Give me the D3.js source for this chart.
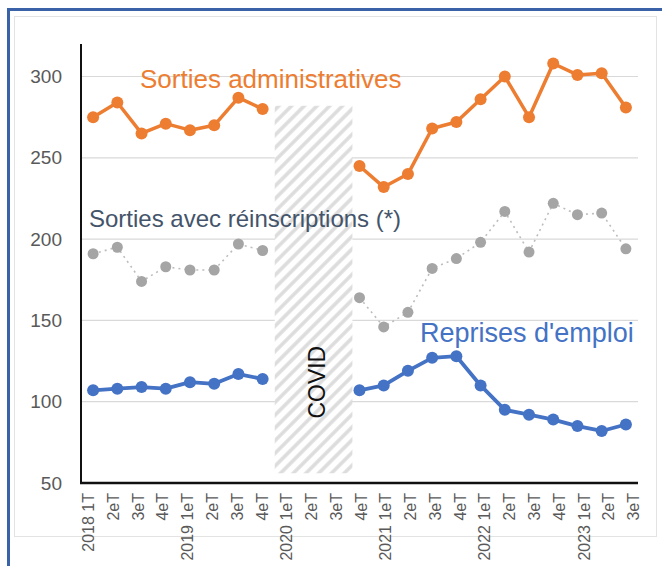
<!DOCTYPE html>
<meta charset="utf-8">
<style>
  body { margin: 0; background: #fff; }
  svg { display: block; font-family: "Liberation Sans", Arial, sans-serif; }
  .axis--y text { fill: #595959; font-size: 19px; }
  .axis--x text { fill: #595959; font-size: 16px; }
  .axis path, .axis line { display: none; }
  .grid line { stroke: #d9d9d9; stroke-width: 1.2; }
</style>
<svg width="662" height="566"></svg>
<script src="https://d3js.org/d3.v7.min.js"></script>
<script>
  // quarters, 2018 T1 -> 2023 T3
  var categories = ["2018 1T", "2eT", "3eT", "4eT",
    "2019 1eT", "2eT ", "3eT ", "4eT ",
    "2020 1eT", "2eT  ", "3eT  ", "4eT  ",
    "2021 1eT", "2eT   ", "3eT   ", "4eT   ",
    "2022 1eT", "2eT    ", "3eT    ", "4eT    ",
    "2023 1eT", "2eT     ", "3eT     "];

  var sortiesAdmin = [275, 284, 265, 271, 267, 270, 287, 280, null, null, null,
    245, 232, 240, 268, 272, 286, 300, 275, 308, 301, 302, 281];
  var sortiesReinscr = [191, 195, 174, 183, 181, 181, 197, 193, null, null, null,
    164, 146, 155, 182, 188, 198, 217, 192, 222, 215, 216, 194];
  var reprisesEmploi = [107, 108, 109, 108, 112, 111, 117, 114, null, null, null,
    107, 110, 119, 127, 128, 110, 95, 92, 89, 85, 82, 86];

  var yTicks = [50, 100, 150, 200, 250, 300];
  var covidRange = ["2020 1eT", "3eT  "];
  var covidValues = [56, 282];

  var svg = d3.select("svg");

  // frame
  svg.append("rect")
    .attr("x", 8.5).attr("y", 9.5).attr("width", 680).attr("height", 600)
    .attr("fill", "none").attr("stroke", "#3a62a8").attr("stroke-width", 3);
  svg.append("rect")
    .attr("x", 14.5).attr("y", 16.5).attr("width", 642).attr("height", 520)
    .attr("fill", "#fff").attr("stroke", "#e3e3e3").attr("stroke-width", 1);

  var x = d3.scaleBand().domain(categories).range([81, 638]),
    xLab = d3.scalePoint().domain(categories).range([88, 633]),
    y = d3.scaleLinear().domain([50, 320]).range([483, 44]);

  function cx(i) { return x(categories[i]) + x.bandwidth() / 2; }

  // gridlines
  svg.append("g").attr("class", "grid")
    .selectAll("line").data(yTicks.slice(1)).enter().append("line")
    .attr("x1", x.range()[0]).attr("x2", x.range()[1])
    .attr("y1", function(d) { return y(d); })
    .attr("y2", function(d) { return y(d); });

  // COVID hatched band
  var defs = svg.append("defs");
  var pat = defs.append("pattern")
    .attr("id", "hatch")
    .attr("patternUnits", "userSpaceOnUse")
    .attr("width", 9).attr("height", 9)
    .attr("patternTransform", "rotate(45)");
  pat.append("rect").attr("width", 9).attr("height", 9).attr("fill", "#fff");
  pat.append("line")
    .attr("x1", 2).attr("x2", 2).attr("y1", 0).attr("y2", 9)
    .attr("stroke", "#dcdcdc").attr("stroke-width", 3.5);

  var bx0 = x(covidRange[0]),
    bx1 = x(covidRange[1]) + x.bandwidth() + 5;
  svg.append("rect")
    .attr("x", bx0).attr("width", bx1 - bx0)
    .attr("y", y(covidValues[1])).attr("height", y(covidValues[0]) - y(covidValues[1]))
    .attr("fill", "url(#hatch)");

  svg.append("text")
    .attr("transform", "translate(" + ((bx0 + bx1) / 2 + 11) + "," + y(112) + ") rotate(-90)")
    .attr("text-anchor", "middle")
    .attr("font-size", 23)
    .attr("fill", "#111")
    .text("COVID");

  // series
  var line = d3.line()
    .defined(function(d) { return d != null; })
    .x(function(d, i) { return cx(i); })
    .y(function(d) { return y(d); });

  function drawSeries(values, color, width, dash, markerColor, r) {
    svg.append("path")
      .datum(values)
      .attr("fill", "none")
      .attr("stroke", color)
      .attr("stroke-width", width)
      .attr("stroke-dasharray", dash)
      .attr("stroke-linejoin", "round")
      .attr("d", line);
    svg.append("g").selectAll("circle")
      .data(values.map(function(v, i) { return { v: v, i: i }; })
        .filter(function(d) { return d.v != null; }))
      .enter().append("circle")
      .attr("cx", function(d) { return cx(d.i); })
      .attr("cy", function(d) { return y(d.v); })
      .attr("r", r)
      .attr("fill", markerColor);
  }

  drawSeries(sortiesReinscr, "#bdbdbd", 1.6, "2,4", "#a5a5a5", 5.5);
  drawSeries(sortiesAdmin, "#ed7d31", 3.5, null, "#ed7d31", 6);
  drawSeries(reprisesEmploi, "#4472c4", 3.8, null, "#4472c4", 6);

  // series labels
  svg.append("text").attr("x", 140).attr("y", 88)
    .attr("font-size", 26).attr("fill", "#ed7d31")
    .text("Sorties administratives");
  svg.append("text").attr("x", 89).attr("y", 227)
    .attr("font-size", 24).attr("fill", "#44546a")
    .text("Sorties avec réinscriptions (*)");
  svg.append("text").attr("x", 420).attr("y", 342)
    .attr("font-size", 27).attr("fill", "#4472c4")
    .text("Reprises d'emploi");

  // axes
  svg.append("g")
    .attr("class", "axis axis--y")
    .attr("transform", "translate(" + x.range()[0] + ",0)")
    .call(d3.axisLeft(y).tickValues(yTicks).tickSize(0).tickPadding(19));

  svg.append("g")
    .attr("class", "axis axis--x")
    .attr("transform", "translate(0," + y(50) + ")")
    .call(d3.axisBottom(xLab).tickSize(0).tickFormat(function(d) { return d.trim(); }))
    .selectAll("text")
    .attr("transform", "rotate(-90)")
    .attr("text-anchor", "end")
    .attr("x", -10)
    .attr("y", 0)
    .attr("dy", "0.35em");

  svg.append("line")
    .attr("x1", x.range()[0]).attr("x2", x.range()[0])
    .attr("y1", y(320)).attr("y2", y(50))
    .attr("stroke", "#111").attr("stroke-width", 2);
  svg.append("line")
    .attr("x1", x.range()[0] - 1).attr("x2", x.range()[1])
    .attr("y1", y(50)).attr("y2", y(50))
    .attr("stroke", "#111").attr("stroke-width", 2.5);
</script>
